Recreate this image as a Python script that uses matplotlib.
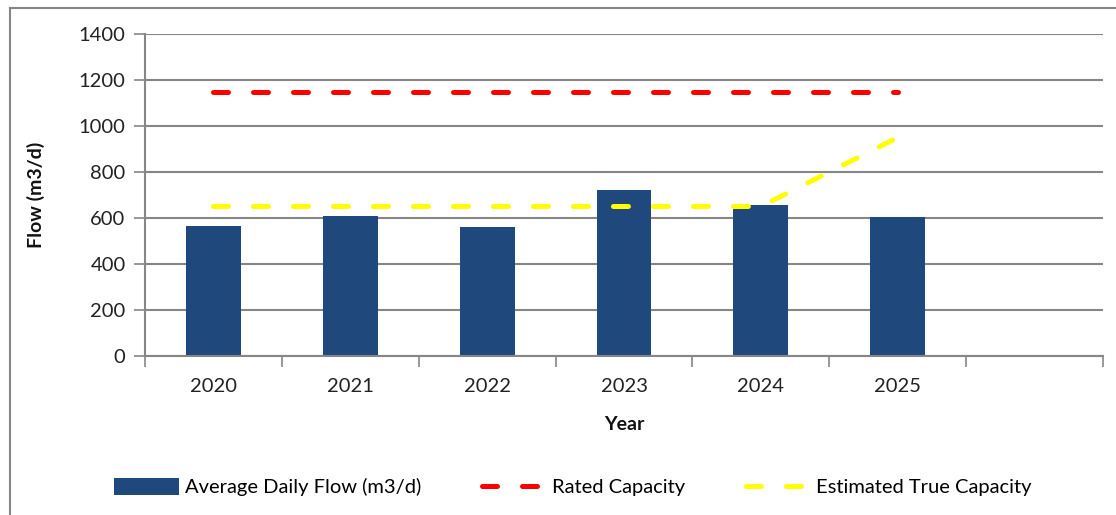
import matplotlib.pyplot as plt
from matplotlib.lines import Line2D
from matplotlib.patches import Patch

# data
years = ["2020", "2021", "2022", "2023", "2024", "2025", ""]
avg_flow = [565, 610, 560, 722, 655, 605]
rated_capacity = [1150, 1150, 1150, 1150, 1150, 1150]
true_capacity = [650, 650, 650, 650, 650, 950]

plt.rcParams['font.family'] = ['Lato', 'DejaVu Sans']

BAR = '#1F497D'
GRID = '#868686'
DASH = (0, (3, 5))

fig = plt.figure(figsize=(11.16, 5.15), dpi=100)
ax = fig.add_axes([145 / 1116, 1 - 356 / 515, (1103 - 145) / 1116, (356 - 34) / 515])

x = list(range(len(years)))
ax.bar(x[:len(avg_flow)], avg_flow, width=0.4, color=BAR, zorder=2)
ax.plot(x[:len(rated_capacity)], rated_capacity, color='#FF0000', lw=3.6,
        linestyle=DASH, dash_capstyle='round', zorder=3)
ax.plot(x[:len(true_capacity)], true_capacity, color='#FFFF00', lw=3.6,
        linestyle=DASH, dash_capstyle='round', zorder=3)

ax.set_xlim(-0.5, len(years) - 0.5)
ax.set_ylim(0, 1400)
ax.set_yticks(range(0, 1401, 200))
ax.set_xticks(x)
ax.set_xticklabels(years)
ax.set_xticks([i - 0.5 for i in range(len(years) + 1)], minor=True)
ax.tick_params(axis='x', which='major', length=0, pad=16, labelsize=14.5, labelcolor='#222222')
ax.tick_params(axis='x', which='minor', length=8, width=1.2, color=GRID, direction='out')
ax.tick_params(axis='y', length=8, width=1.2, color=GRID, direction='out', pad=6,
               labelsize=14.5, labelcolor='#222222')

ax.yaxis.grid(True, color=GRID, lw=1.5, zorder=0)
ax.set_axisbelow(True)
for s in ['top', 'right']:
    ax.spines[s].set_visible(False)
for s in ['left', 'bottom']:
    ax.spines[s].set_color(GRID)
    ax.spines[s].set_linewidth(1.5)

ax.set_xlabel('Year', fontsize=14, fontweight='bold', labelpad=15, color='#111111')
ax.set_ylabel('Flow (m3/d)', fontsize=14, fontweight='bold', labelpad=24, color='#111111')

handles = [
    Patch(facecolor=BAR, label='Average Daily Flow (m3/d)'),
    Line2D([], [], color='#FF0000', lw=3.6, linestyle=DASH, dash_capstyle='round',
           label='Rated Capacity'),
    Line2D([], [], color='#FFFF00', lw=3.6, linestyle=DASH, dash_capstyle='round',
           label='Estimated True Capacity'),
]
fig.legend(handles=handles, loc='center', bbox_to_anchor=(573 / 1116, 1 - 487 / 515), ncol=3,
           frameon=False, fontsize=14.5, handlelength=3.2, handleheight=0.9,
           columnspacing=3.0, handletextpad=0.3)

# chart-area border (runs off the right and bottom of the image)
fig.add_artist(Line2D([10 / 1116, 10 / 1116], [0, 1 - 8 / 515], color=GRID, lw=1.5))
fig.add_artist(Line2D([10 / 1116, 1], [1 - 8 / 515, 1 - 8 / 515], color=GRID, lw=1.5))

fig.savefig('out.png', dpi=100)
